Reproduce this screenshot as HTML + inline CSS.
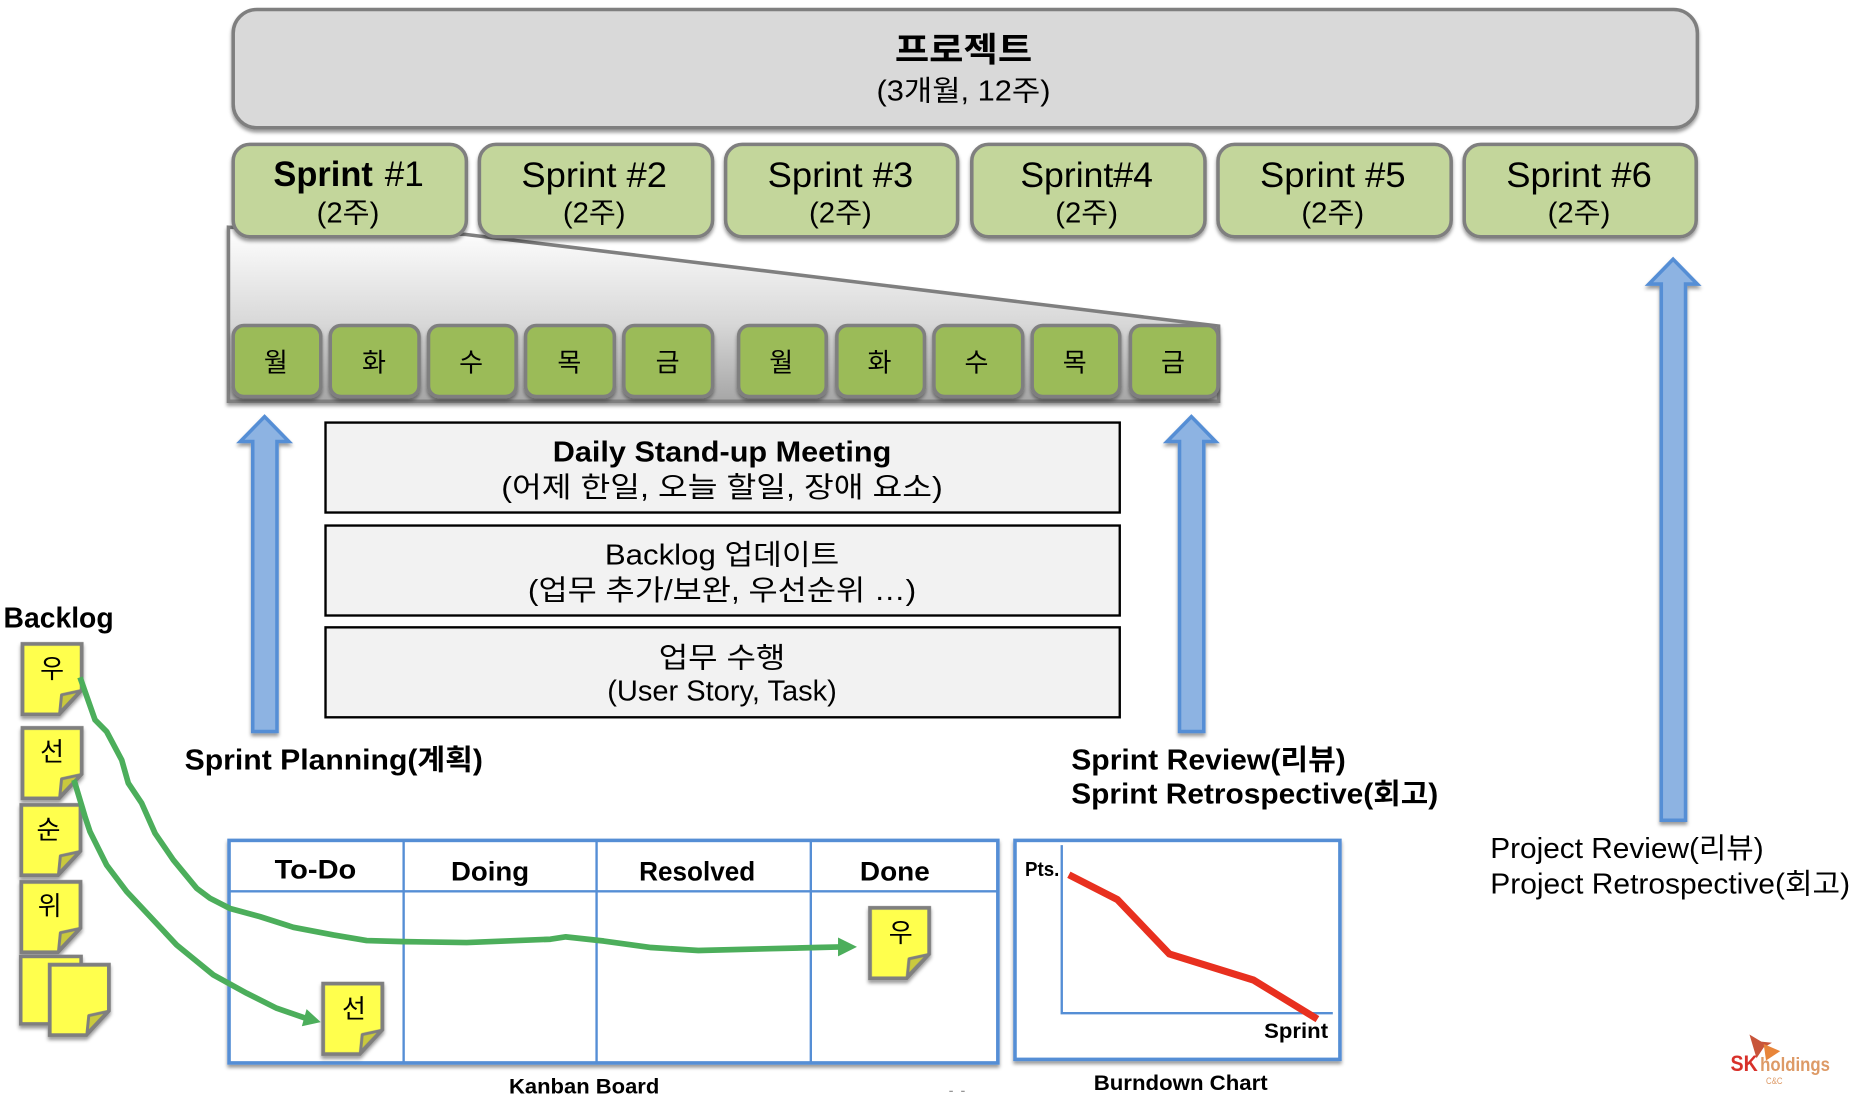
<!DOCTYPE html>
<html lang="ko"><head><meta charset="utf-8"><title>Sprint diagram</title>
<style>
html,body{margin:0;padding:0;background:#fff;width:1856px;height:1104px;overflow:hidden}
svg{display:block}
text{font-family:"Liberation Sans","Noto Sans CJK KR",sans-serif;fill:#000}
.b{font-weight:700}
.m{text-anchor:middle}
</style></head><body>
<svg xmlns="http://www.w3.org/2000/svg" width="1856" height="1104" viewBox="0 0 1568 932.7">
<defs>
<filter id="s" x="-10%" y="-10%" width="120%" height="125%"><feDropShadow dx="0" dy="2.5" stdDeviation="1.6" flood-color="#000" flood-opacity=".4"/></filter>
<linearGradient id="tr" x1="0" y1="0" x2="0" y2="1"><stop offset="0" stop-color="#fff"/><stop offset=".55" stop-color="#d8d8d8"/><stop offset="1" stop-color="#a6a6a6"/></linearGradient>
<g id="note"><path d="M0 0H50V39L31 59.500H0Z" fill="#ffff4d" stroke="#7f7f7f" stroke-width="3.200"/><path d="M33 43L49 39.500L31.500 58Z" fill="#c9c93c" stroke="#7f7f7f" stroke-width="2.500" stroke-linejoin="round"/></g>
</defs>

<!-- project -->
<rect x="197" y="8" width="1237" height="100" rx="20" fill="#d9d9d9" stroke="#7f7f7f" stroke-width="3" filter="url(#s)"/>
<text x="814" y="52" class="b m" font-size="29" textLength="116" lengthAdjust="spacingAndGlyphs">프로젝트</text>
<text x="814" y="85" class="m" font-size="24" textLength="147" lengthAdjust="spacingAndGlyphs">(3개월, 12주)</text>

<!-- trapezoid -->
<path d="M193 192L393 198L1029.500 275.500V339H193Z" fill="url(#tr)" stroke="#7f7f7f" stroke-width="3" filter="url(#s)"/>

<!-- sprints -->
<g fill="#c3d69b" stroke="#7f7f7f" stroke-width="3" filter="url(#s)">
<rect x="197" y="122" width="197" height="78" rx="14"/>
<rect x="405" y="122" width="197" height="78" rx="14"/>
<rect x="613" y="122" width="196" height="78" rx="14"/>
<rect x="821" y="122" width="197" height="78" rx="14"/>
<rect x="1029" y="122" width="197" height="78" rx="14"/>
<rect x="1237" y="122" width="196" height="78" rx="14"/>
</g>
<text x="231" y="157" class="b" font-size="30" textLength="84" lengthAdjust="spacingAndGlyphs">Sprint</text>
<text x="325" y="157" font-size="30" textLength="33" lengthAdjust="spacingAndGlyphs">#1</text>
<text x="502" y="158" class="m" font-size="30" textLength="123" lengthAdjust="spacingAndGlyphs">Sprint #2</text>
<text x="710" y="158" class="m" font-size="30" textLength="123" lengthAdjust="spacingAndGlyphs">Sprint #3</text>
<text x="918" y="158" class="m" font-size="30" textLength="112" lengthAdjust="spacingAndGlyphs">Sprint#4</text>
<text x="1126" y="158" class="m" font-size="30" textLength="123" lengthAdjust="spacingAndGlyphs">Sprint #5</text>
<text x="1334" y="158" class="m" font-size="30" textLength="123" lengthAdjust="spacingAndGlyphs">Sprint #6</text>
<g font-size="24" text-anchor="middle">
<text x="294" y="188" textLength="53" lengthAdjust="spacingAndGlyphs">(2주)</text>
<text x="502" y="188" textLength="53" lengthAdjust="spacingAndGlyphs">(2주)</text>
<text x="710" y="188" textLength="53" lengthAdjust="spacingAndGlyphs">(2주)</text>
<text x="918" y="188" textLength="53" lengthAdjust="spacingAndGlyphs">(2주)</text>
<text x="1126" y="188" textLength="53" lengthAdjust="spacingAndGlyphs">(2주)</text>
<text x="1334" y="188" textLength="53" lengthAdjust="spacingAndGlyphs">(2주)</text>
</g>

<!-- days -->
<g fill="#9bbb59" stroke="#7f7f7f" stroke-width="3" filter="url(#s)">
<rect x="197" y="275" width="74" height="60" rx="9"/>
<rect x="279" y="275" width="75" height="60" rx="9"/>
<rect x="362" y="275" width="74" height="60" rx="9"/>
<rect x="444" y="275" width="75" height="60" rx="9"/>
<rect x="527" y="275" width="75" height="60" rx="9"/>
<rect x="624" y="275" width="74" height="60" rx="9"/>
<rect x="707" y="275" width="74" height="60" rx="9"/>
<rect x="789" y="275" width="75" height="60" rx="9"/>
<rect x="872" y="275" width="74" height="60" rx="9"/>
<rect x="955" y="275" width="74" height="60" rx="9"/>
</g>
<g font-size="22" text-anchor="middle">
<text x="233" y="314">월</text><text x="316" y="314">화</text><text x="398" y="314">수</text><text x="481" y="314">목</text><text x="564" y="314">금</text>
<text x="660" y="314">월</text><text x="743" y="314">화</text><text x="825" y="314">수</text><text x="908" y="314">목</text><text x="991" y="314">금</text>
</g>

<!-- up arrows -->
<g fill="#8db3e2" stroke="#558ed5" stroke-width="3" filter="url(#s)">
<path d="M223.500 352L244 373H234V618H213.500V373H203Z"/>
<path d="M1006.500 352L1027 373H1017V618H996.500V373H986Z"/>
<path d="M1413.500 219L1434 240H1424V693H1403.500V240H1393Z"/>
</g>

<!-- middle boxes -->
<g fill="#f2f2f2" stroke="#000" stroke-width="2">
<rect x="275" y="357" width="671" height="76"/>
<rect x="275" y="444" width="671" height="76"/>
<rect x="275" y="530" width="671" height="76"/>
</g>
<text x="610" y="390" class="b m" font-size="24" textLength="286" lengthAdjust="spacingAndGlyphs">Daily Stand-up Meeting</text>
<text x="610" y="420" class="m" font-size="24" textLength="373" lengthAdjust="spacingAndGlyphs">(어제 한일, 오늘 할일, 장애 요소)</text>
<text x="610" y="477" class="m" font-size="24" textLength="198" lengthAdjust="spacingAndGlyphs">Backlog 업데이트</text>
<text x="610" y="507" class="m" font-size="24" textLength="328" lengthAdjust="spacingAndGlyphs">(업무 추가/보완, 우선순위 …)</text>
<text x="610" y="564" class="m" font-size="24" textLength="107" lengthAdjust="spacingAndGlyphs">업무 수행</text>
<text x="610" y="592" class="m" font-size="24" textLength="194" lengthAdjust="spacingAndGlyphs">(User Story, Task)</text>

<!-- labels -->
<text x="3" y="530" class="b" font-size="24" textLength="93" lengthAdjust="spacingAndGlyphs">Backlog</text>
<text x="156" y="650" class="b" font-size="24" textLength="252" lengthAdjust="spacingAndGlyphs">Sprint Planning(계획)</text>
<text x="905" y="650" class="b" font-size="24" textLength="232" lengthAdjust="spacingAndGlyphs">Sprint Review(리뷰)</text>
<text x="905" y="679" class="b" font-size="24" textLength="310" lengthAdjust="spacingAndGlyphs">Sprint Retrospective(회고)</text>
<text x="1259" y="725" font-size="24" textLength="231" lengthAdjust="spacingAndGlyphs">Project Review(리뷰)</text>
<text x="1259" y="755" font-size="24" textLength="304" lengthAdjust="spacingAndGlyphs">Project Retrospective(회고)</text>

<!-- kanban -->
<rect x="193.500" y="710" width="649.500" height="188" fill="#fff" stroke="#558ed5" stroke-width="3" filter="url(#s)"/>
<path d="M194 753H842M341 711V898M504 711V898M685 711V898" stroke="#558ed5" stroke-width="2" fill="none"/>
<text x="266.500" y="742" class="b m" font-size="23" textLength="69" lengthAdjust="spacingAndGlyphs">To-Do</text>
<text x="414" y="744" class="b m" font-size="23" textLength="66" lengthAdjust="spacingAndGlyphs">Doing</text>
<text x="589" y="744" class="b m" font-size="23" textLength="98" lengthAdjust="spacingAndGlyphs">Resolved</text>
<text x="756" y="744" class="b m" font-size="23" textLength="59" lengthAdjust="spacingAndGlyphs">Done</text>
<text x="493.500" y="924" class="b m" font-size="18" textLength="127" lengthAdjust="spacingAndGlyphs">Kanban Board</text>
<text x="997.500" y="921" class="b m" font-size="18" textLength="147" lengthAdjust="spacingAndGlyphs">Burndown Chart</text>

<!-- burndown -->
<rect x="857.500" y="710" width="274.500" height="185" fill="#fff" stroke="#558ed5" stroke-width="3" filter="url(#s)"/>
<path d="M897 714V856H1126" fill="none" stroke="#558ed5" stroke-width="2"/>
<path d="M903 739L944 760L988 806L1059 828L1113 861" fill="none" stroke="#e8301f" stroke-width="6" stroke-linejoin="round"/>
<text x="866" y="740" class="b" font-size="17" textLength="29" lengthAdjust="spacingAndGlyphs">Pts.</text>
<text x="1068" y="877" class="b" font-size="18" textLength="54" lengthAdjust="spacingAndGlyphs">Sprint</text>
<path d="M802 922h3M812 922h3" stroke="#888" stroke-width="1"/>

<!-- stickies -->
<g filter="url(#s)">
<use href="#note" x="19" y="544"/>
<use href="#note" x="19" y="615"/>
<use href="#note" x="18" y="680"/>
<use href="#note" x="18" y="745"/>
<rect x="17.500" y="808" width="51" height="57" fill="#ffff4d" stroke="#7f7f7f" stroke-width="3"/>
<use href="#note" x="42" y="815"/>
<use href="#note" x="273" y="831"/>
<use href="#note" x="735" y="767"/>
</g>
<g font-size="22" text-anchor="middle">
<text x="44" y="573">우</text>
<text x="44" y="643">선</text>
<text x="41" y="709">순</text>
<text x="42" y="773">위</text>
<text x="299" y="860">선</text>
<text x="761" y="796">우</text>
</g>

<!-- green curves -->
<g fill="none" stroke="#4cae5b" stroke-width="4.800" stroke-linejoin="round">
<path d="M67.600 572.200L80.300 608.200L90.100 618.100L102.800 642L108.400 661.700L119.700 678.600L131 704L146.400 726.500L166.100 750.400L177.400 758.900L194.300 767.500L219.600 774.400L247.800 783.400L281.600 789.900L309.800 794.600L340.700 795.500L394.200 796.300L465 793.500L478 791.500L510 795L550 800.500L590 803L650 801.500L690 800.500L710 800"/>
<path d="M62.500 658.900L71.800 689.900L76 702.600L90 730.700L107 753.200L129.500 777.200L149.200 798.300L180.200 823.600L208.400 839.100L233.700 851.800L259 860.500"/>
</g>
<path d="M724 800L708 792V808Z" fill="#4cae5b"/>
<path d="M271 863.500L259 852.500L255 867Z" fill="#4cae5b"/>

<!-- logo -->
<path d="M1478 874L1488 880L1497 881L1490 885L1484 894Z" fill="#c8553a"/>
<path d="M1490 882L1504 888L1492 896Z" fill="#e8853a"/>
<text x="1462" y="905" class="b" font-size="19" style="fill:#d8302a" textLength="23" lengthAdjust="spacingAndGlyphs">SK</text>
<text x="1487" y="905" class="b" font-size="16" style="fill:#dd9a66" textLength="59" lengthAdjust="spacingAndGlyphs">holdings</text>
<text x="1492" y="916" font-size="8" style="fill:#dd9a66" textLength="14" lengthAdjust="spacingAndGlyphs">C&amp;C</text>
</svg>
</body></html>
